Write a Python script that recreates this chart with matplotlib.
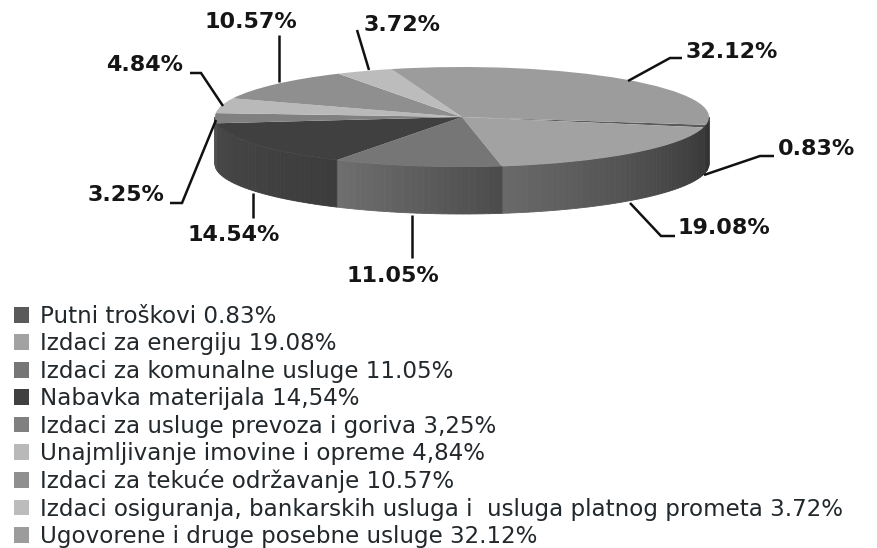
import numpy as np
import matplotlib
matplotlib.use("Agg")
import matplotlib.pyplot as plt
from matplotlib.colors import to_rgb

# --- data ---
categories = ["Putni troškovi 0.83%", "Izdaci za energiju 19.08%", "Izdaci za komunalne usluge 11.05%",
              "Nabavka materijala 14,54%", "Izdaci za usluge prevoza i goriva 3,25%",
              "Unajmljivanje imovine i opreme 4,84%", "Izdaci za tekuće održavanje 10.57%",
              "Izdaci osiguranja, bankarskih usluga i  usluga platnog prometa 3.72%",
              "Ugovorene i druge posebne usluge 32.12%"]
values = [0.83, 19.08, 11.05, 14.54, 3.25, 4.84, 10.57, 3.72, 32.12]
value_labels = ["0.83%", "19.08%", "11.05%", "14.54%", "3.25%", "4.84%", "10.57%", "3.72%", "32.12%"]

# --- styles ---
top_colors = ["#5a5a5a", "#a2a2a2", "#767676", "#404040", "#808080", "#b9b9b9", "#8f8f8f", "#bcbcbc", "#9c9c9c"]
side_left = ["#3a3a3a", "#6a6a6a", "#707070", "#474747", "#505050", "#666666", "#555555", "#666666", "#333333"]
side_right = ["#3a3a3a", "#383838", "#4c4c4c", "#3c3c3c", "#505050", "#666666", "#555555", "#666666", "#333333"]
START = -9.0
CX, CY, RX, RY, DEPTH = 462, 117, 247, 50, 47

# label layout: text centre (px) and leader path (px)
label_layout = {
    "0.83%": ((817, 149), [(704, 175), (760, 156), (774, 156)]),
    "19.08%": ((724, 228), [(630, 203), (661, 236), (675, 236)]),
    "11.05%": ((393, 276), [(412, 215), (412, 258)]),
    "14.54%": ((234, 235), [(253, 193), (253, 218)]),
    "3.25%": ((126, 195), [(216, 120), (182, 203), (170, 203)]),
    "4.84%": ((145, 65), [(223, 106), (201, 73), (190, 73)]),
    "10.57%": ((251, 22), [(279, 82), (279, 35)]),
    "3.72%": ((402, 25), [(369, 70), (357, 30)]),
    "32.12%": ((732, 52), [(628, 81), (670, 58), (682, 58)]),
}

W, H = 878, 548
fig = plt.figure(figsize=(W / 100, H / 100), dpi=100, facecolor="white")

ax = fig.add_axes([(CX - RX) / W, 1 - (CY + RY) / H, 2 * RX / W, 2 * RY / H])
wedges, _ = ax.pie(values, startangle=START, counterclock=False, colors=top_colors, radius=1,
                   wedgeprops=dict(clip_on=False, linewidth=0))
ax.set_aspect("auto")
ax.set_xlim(-1, 1)
ax.set_ylim(-1, 1)
ax.axis("off")

# extruded rim, per slice, from the same values
depth_units = DEPTH / RY
fractions = np.array(values) / sum(values)
edges = START - 360 * np.concatenate([[0], np.cumsum(fractions)])
for i in range(len(values)):
    a0, a1 = edges[i], edges[i + 1]
    steps = max(2, int(abs(a1 - a0) / 1.5))
    grid = np.linspace(a0, a1, steps + 1)
    for g0, g1 in zip(grid[:-1], grid[1:]):
        # only the front half of the rim shows
        lo, hi = max(min(g0, g1), -180), min(max(g0, g1), 0)
        if lo >= hi:
            lo, hi = max(min(g0, g1) + 360, -180), min(max(g0, g1) + 360, 0)
        if lo >= hi:
            continue
        t = (g0 - a0) / (a1 - a0)  # 0 at right-hand end of slice, 1 at left-hand end
        c0, c1 = np.array(to_rgb(side_right[i])), np.array(to_rgb(side_left[i]))
        col = tuple(c0 + (c1 - c0) * t)
        th = np.radians([lo, hi])
        xs = np.cos(th)
        ys = np.sin(th)
        ax.fill([xs[0], xs[1], xs[1], xs[0]],
                [ys[0], ys[1], ys[1] - depth_units, ys[0] - depth_units],
                color=col, lw=0.6, zorder=0.5, clip_on=False)

# overlay in pixel coordinates for the leaders and labels
ov = fig.add_axes([0, 0, 1, 1], facecolor="none")
ov.set_xlim(0, W)
ov.set_ylim(H, 0)
ov.axis("off")
for lab in value_labels:
    (tx, ty), path = label_layout[lab]
    ov.plot(*zip(*path), color="#111111", lw=1.8, solid_joinstyle="miter", solid_capstyle="butt")
    ov.text(tx, ty, lab, ha="center", va="center", fontsize=16, fontweight="bold",
            family="DejaVu Sans", color="#151515")

fig.legend(handles=list(wedges), labels=categories, loc="upper left",
           bbox_to_anchor=(14 / W, 1 - 305 / H), frameon=False, borderaxespad=0, borderpad=0,
           prop={"family": "DejaVu Sans", "size": 16.6}, labelcolor="#22282c",
           handlelength=0.67, handleheight=0.67, handletextpad=0.46, labelspacing=0.19)

fig.savefig("out.png", dpi=100, facecolor="white")
